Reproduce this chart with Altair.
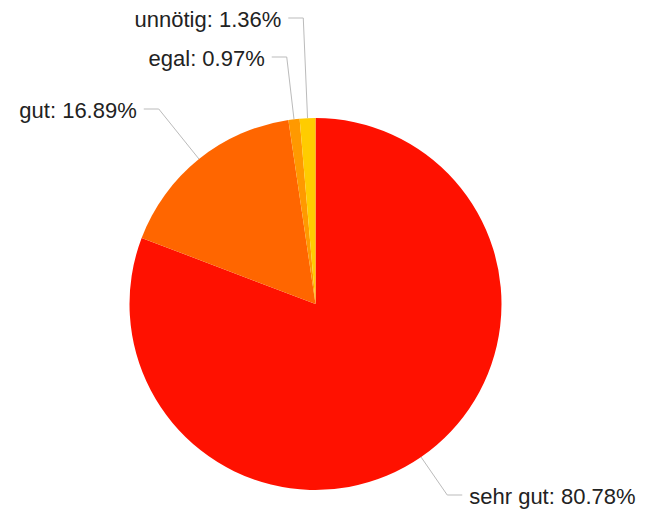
import altair as alt
import pandas as pd

categories = ["sehr gut", "gut", "egal", "unnötig"]
shares = [80.78, 16.89, 0.97, 1.36]
colors = ["#ff1100", "#ff6600", "#ff9900", "#ffcc00"]

# label layout: pixel row of each label (chart coordinates)
label_rows = {"sehr gut": 487, "gut": 101, "egal": 49, "unnötig": 10}

CX, CY, R = 307.5, 296, 186
ARM, GAP = 15, 7

df = pd.DataFrame({
    "cat": categories,
    "value": shares,
    "idx": list(range(len(categories))),
    "ly": [label_rows[c] for c in categories],
})

base = alt.Chart(df)

pie = base.mark_arc(outerRadius=R).encode(
    theta=alt.Theta("value:Q", stack=True),
    order=alt.Order("idx:Q"),
    color=alt.Color("cat:N", scale=alt.Scale(domain=categories, range=colors), legend=None),
    x=alt.value(CX),
    y=alt.value(CY),
)

geo = (
    base.transform_joinaggregate(total="sum(value)")
    .transform_window(cum="sum(value)", sort=[alt.SortField("idx")], frame=[None, 0])
    .transform_calculate(mid="(datum.cum - datum.value/2)/datum.total*2*PI")
    .transform_calculate(sx=f"{CX} + {R}*sin(datum.mid)")
    .transform_calculate(sy=f"{CY} - {R}*cos(datum.mid)")
    .transform_calculate(side="sin(datum.mid) < 0 ? -1 : 1")
    .transform_calculate(ex="datum.sx + (datum.sy - datum.ly)/cos(datum.mid)*sin(datum.mid)")
    .transform_calculate(hx=f"datum.ex + datum.side*{ARM}")
    .transform_calculate(tx=f"datum.hx + datum.side*{GAP}")
    .transform_calculate(label="datum.cat + ': ' + format(datum.value, '.2f') + '%'")
)

line_color = "#bbbbbb"
seg1 = geo.mark_rule(color=line_color, strokeWidth=1).encode(
    x=alt.X("sx:Q", scale=None, axis=None),
    y=alt.Y("sy:Q", scale=None, axis=None),
    x2="ex:Q",
    y2="ly:Q",
)
seg2 = geo.mark_rule(color=line_color, strokeWidth=1).encode(
    x=alt.X("ex:Q", scale=None, axis=None),
    y=alt.Y("ly:Q", scale=None, axis=None),
    x2="hx:Q",
    y2="ly:Q",
)

text_style = dict(baseline="middle", font="Liberation Sans", fontSize=22, color="#222222", dy=2)
txt_l = geo.transform_filter("datum.side < 0").mark_text(align="right", **text_style).encode(
    x=alt.X("tx:Q", scale=None, axis=None),
    y=alt.Y("ly:Q", scale=None, axis=None),
    text="label:N",
)
txt_r = geo.transform_filter("datum.side > 0").mark_text(align="left", **text_style).encode(
    x=alt.X("tx:Q", scale=None, axis=None),
    y=alt.Y("ly:Q", scale=None, axis=None),
    text="label:N",
)

chart = (
    alt.layer(pie, seg1, seg2, txt_l, txt_r)
    .properties(width=638, height=501, padding=0, autosize="none")
    .configure_view(stroke=None)
)

chart.save("out.html", embed_options={"renderer": "svg", "actions": False})
